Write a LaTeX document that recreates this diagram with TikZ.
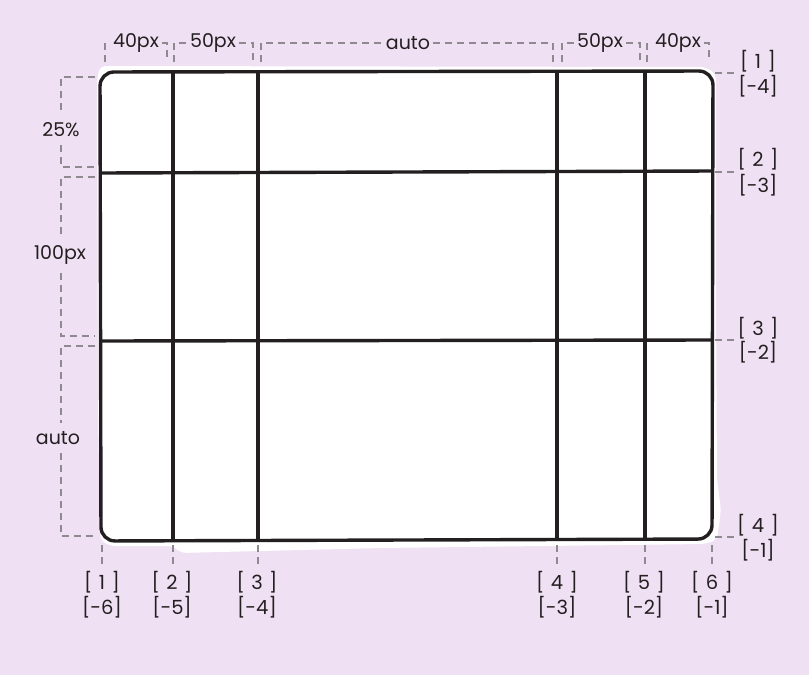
\documentclass[tikz,border=0pt]{standalone}
\usepackage{fontspec}
\setmainfont{Poppins}
\definecolor{lilac}{HTML}{F0E0F3}
\definecolor{ink}{HTML}{231F20}
\definecolor{dimgray}{HTML}{8E8A90}
\newcommand{\gap}{\hspace{0.33em}}

\begin{document}
\begin{tikzpicture}[x=1pt,y=-1pt,
  gridline/.style={draw=ink, line width=3.4pt},
  dimline/.style={draw=dimgray, line width=1.3pt, dash pattern=on 7pt off 5pt},
  size/.style={font=\fontsize{19}{21}\selectfont, text=ink, inner sep=3pt},
  idx/.style={font=\fontsize{19.5}{21}\selectfont, text=ink, inner sep=1pt}]
% canvas
\fill[lilac] (0,0) rectangle (809,675);
\useasboundingbox (0,0) rectangle (809,675);
% paper under the grid
\fill[white, rounded corners=6pt] (97,80) -- (100,66) -- (706,67) -- (716,74) -- (716,300)
  -- (717,480) -- (721,510) -- (717,540) -- (705,544) -- (380,548) -- (180,553)
  -- (174,546) -- (110,546) -- (100,540) -- (98,400) -- cycle;
% outer frame
\draw[gridline, rounded corners=14pt] (100,72) -- (713,71) -- (712,539) -- (101,541) -- cycle;
% rows
\draw[gridline] (100,173) -- (713,171);
\draw[gridline] (100,341) -- (713,340);
% columns
\draw[gridline] (173,71) -- (173,541);
\draw[gridline] (258,71) -- (258,541);
\draw[gridline] (557,71) -- (557,540);
\draw[gridline] (645,71) -- (645,540);

% column sizes
\node[size] (w1) at (136,43) {40px};
\draw[dimline] (105,62) -- (105,43) -- (w1.west);
\draw[dimline] (w1.east) -- (167,43) -- (167,62);
\node[size] (w2) at (213,43) {50px};
\draw[dimline] (174,62) -- (174,43) -- (w2.west);
\draw[dimline] (w2.east) -- (253,43) -- (253,62);
\node[size] (w3) at (408,43) {auto};
\draw[dimline] (261,62) -- (261,43) -- (w3.west);
\draw[dimline] (w3.east) -- (553,43) -- (553,62);
\node[size] (w4) at (600,43) {50px};
\draw[dimline] (562,62) -- (562,43) -- (w4.west);
\draw[dimline] (w4.east) -- (640,43) -- (640,62);
\node[size] (w5) at (678,43) {40px};
\draw[dimline] (647,62) -- (647,43) -- (w5.west);
\draw[dimline] (w5.east) -- (709,43) -- (709,62);

% row sizes
\node[size, inner sep=8pt] (h1) at (61,130) {25\%};
\draw[dimline] (95,77) -- (61,77) -- (h1.north);
\draw[dimline] (h1.south) -- (61,167) -- (95,167);
\node[size, inner sep=8pt] (h2) at (60,255) {100px};
\draw[dimline] (95,177) -- (61,177) -- (h2.north -| 61,0);
\draw[dimline] (h2.south -| 61,0) -- (61,336) -- (95,336);
\node[size, inner sep=8pt] (h3) at (58,438) {auto};
\draw[dimline] (95,346) -- (61,346) -- (h3.north -| 61,0);
\draw[dimline] (h3.south -| 61,0) -- (61,536) -- (95,536);

% row line numbers
\draw[dimline] (715,73) -- (738,73);
\node[idx] (r1) at (758,61) {[\gap1\gap]};
\node[idx] (r1n) at (758,86) {[-4]};
\draw[dimline] (715,172) -- (738,172);
\node[idx] (r2) at (758,159) {[\gap2\gap]};
\node[idx] (r2n) at (758,185) {[-3]};
\draw[dimline] (715,340) -- (738,340);
\node[idx] (r3) at (758,328) {[\gap3\gap]};
\node[idx] (r3n) at (758,352) {[-2]};
\draw[dimline] (715,537) -- (738,537);
\node[idx] (r4) at (758,525) {[\gap4\gap]};
\node[idx] (r4n) at (758,550) {[-1]};

% column line numbers
\draw[dimline] (102,545) -- (102,568);
\node[idx] (c1) at (102,582) {[\gap1\gap]};
\node[idx] (c1n) at (102,607) {[-6]};
\draw[dimline] (173,545) -- (173,568);
\node[idx] (c2) at (172,582) {[\gap2\gap]};
\node[idx] (c2n) at (172,607) {[-5]};
\draw[dimline] (258,545) -- (258,568);
\node[idx] (c3) at (257,582) {[\gap3\gap]};
\node[idx] (c3n) at (257,607) {[-4]};
\draw[dimline] (557,545) -- (557,568);
\node[idx] (c4) at (557,582) {[\gap4\gap]};
\node[idx] (c4n) at (557,607) {[-3]};
\draw[dimline] (645,545) -- (645,568);
\node[idx] (c5) at (644,582) {[\gap5\gap]};
\node[idx] (c5n) at (644,607) {[-2]};
\draw[dimline] (712,545) -- (712,568);
\node[idx] (c6) at (712,582) {[\gap6\gap]};
\node[idx] (c6n) at (712,607) {[-1]};
\end{tikzpicture}
\end{document}
